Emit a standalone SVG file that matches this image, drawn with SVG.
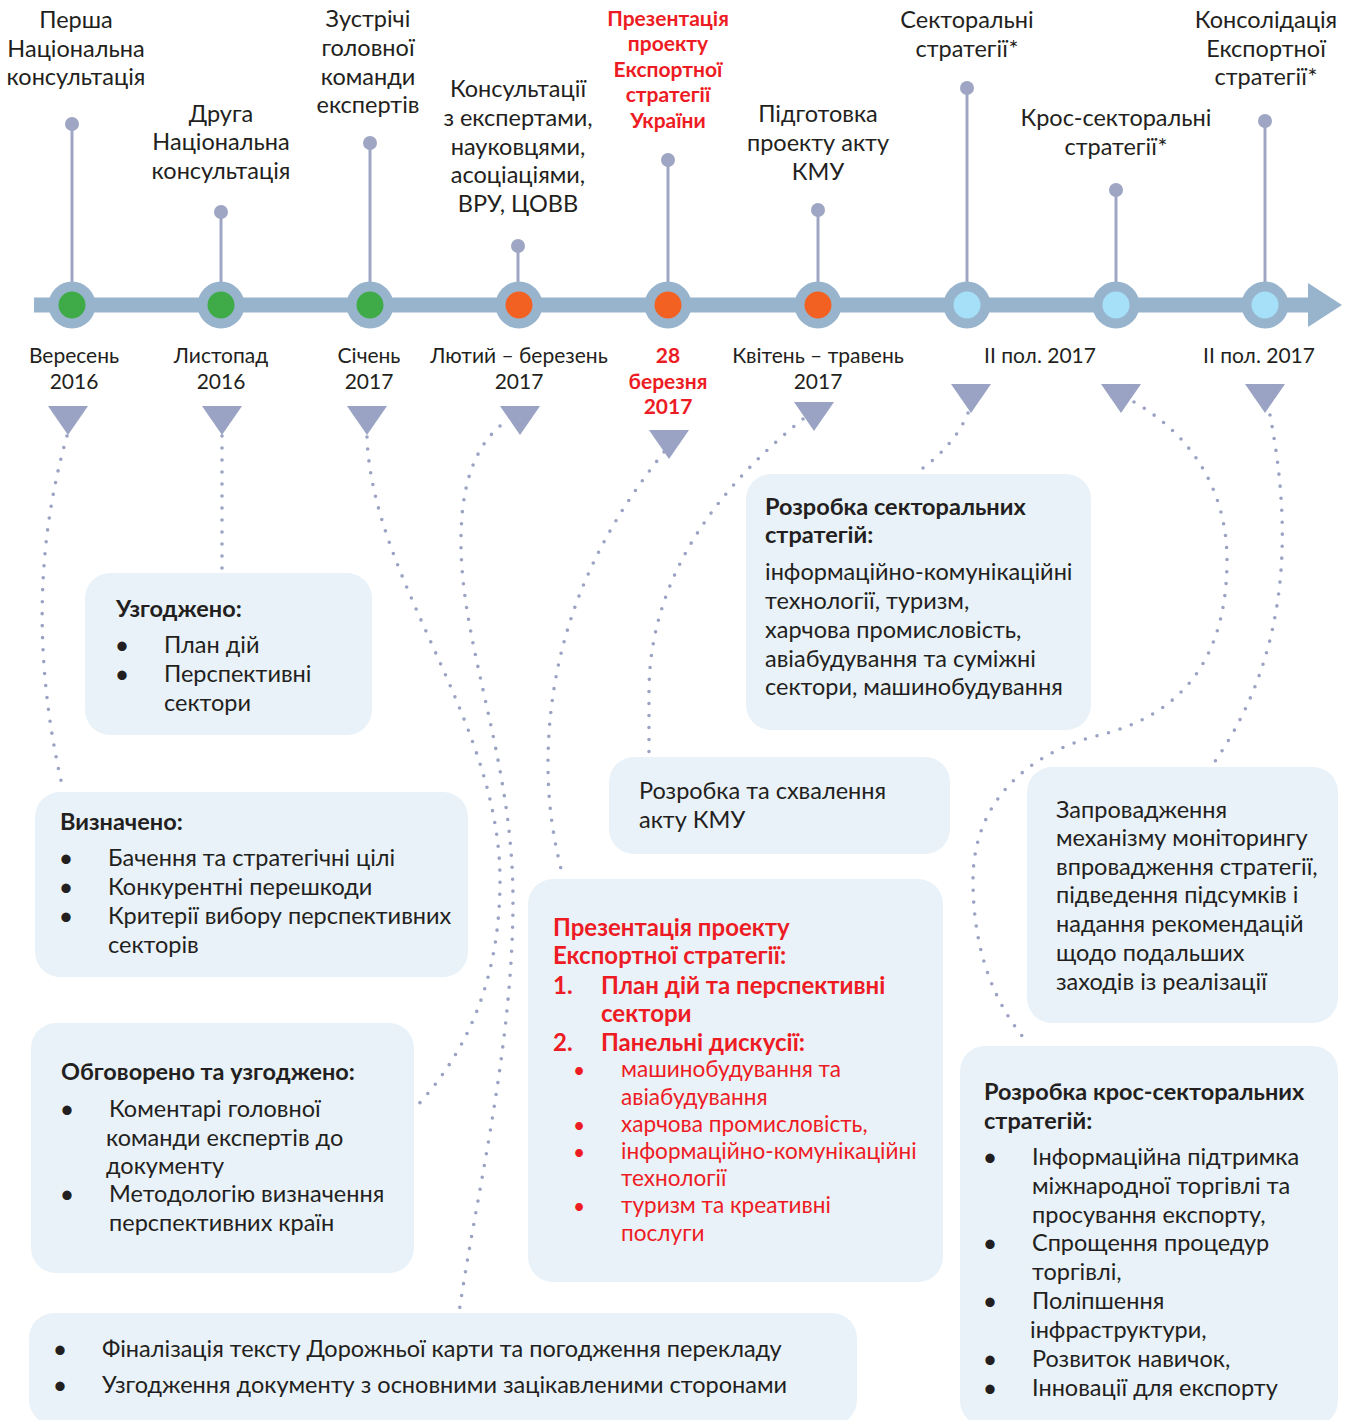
<svg xmlns="http://www.w3.org/2000/svg" width="1350" height="1420" viewBox="0 0 1350 1420">
<style>
text{font-family:Lato,"Liberation Sans","Noto Sans",sans-serif;fill:#231f20}
.l{font-size:23.5px}
.c{text-anchor:middle}
.d{font-size:21px}
.b{font-weight:700}
.r{fill:#ed1c24}
.s{font-size:22.6px}
.h{font-size:24px}
.bu{font-size:25px}
.bs{font-size:21px}
.box{fill:#e9f2f8}
.pin{fill:#9ea6c4}
.stem{stroke:#9ea6c4;stroke-width:3}
.ring{fill:#98b4cd}
.tri{fill:#9aa3c3}
.dot{fill:none;stroke:#9aa3c3;stroke-width:3.6;stroke-linecap:round;stroke-dasharray:0 12}
</style>
<rect width="1350" height="1420" fill="#ffffff"/>

<g id="timeline">
<rect x="34" y="297.5" width="1278" height="15" fill="#98b4cd"/>
<polygon points="1308,283 1342,305 1308,327" fill="#98b4cd"/>
</g>

<g id="connectors">
<path class="dot" d="M67,436 Q20,600 62,785"/>
<path class="dot" d="M222,436 L222,572"/>
<path class="dot" d="M367,437 C372,580 500,720 500,880 C500,990 460,1060 415,1108"/>
<path class="dot" d="M500,426 Q460,460 461,545 C462,650 513,760 513,900 C513,1050 475,1200 459,1313"/>
<path class="dot" d="M664,452 C610,520 548,620 548,765 C548,810 555,845 562,873"/>
<path class="dot" d="M803,419 C740,470 650,560 649,690 L649,752"/>
<path class="dot" d="M968,413 Q955,445 919,471"/>
<path class="dot" d="M1134,402 C1200,440 1227,500 1227,560 C1227,680 1160,720 1100,735 C1030,752 973,800 973,880 C973,960 1000,1010 1027,1042"/>
<path class="dot" d="M1270,415 C1290,520 1295,650 1211,767"/>
</g>

<g id="m1">
<line class="stem" x1="72" y1="124" x2="72" y2="285"/><circle class="pin" cx="72" cy="124" r="7"/>
<circle class="ring" cx="72" cy="305" r="23.5"/><circle cx="72" cy="305" r="13.5" fill="#3fab48"/>
<text class="l c"><tspan x="76" y="28">Перша</tspan><tspan x="76" y="57">Національна</tspan><tspan x="76" y="85">консультація</tspan></text>
<text class="d c"><tspan x="74" y="363">Вересень</tspan><tspan x="74" y="389">2016</tspan></text>
<polygon class="tri" points="48,406 88,406 68,435"/>
</g>
<g id="m2">
<line class="stem" x1="221" y1="212" x2="221" y2="285"/><circle class="pin" cx="221" cy="212" r="7"/>
<circle class="ring" cx="221" cy="305" r="23.5"/><circle cx="221" cy="305" r="13.5" fill="#3fab48"/>
<text class="l c"><tspan x="221" y="122">Друга</tspan><tspan x="221" y="150">Національна</tspan><tspan x="221" y="179">консультація</tspan></text>
<text class="d c"><tspan x="221" y="363">Листопад</tspan><tspan x="221" y="389">2016</tspan></text>
<polygon class="tri" points="202,406 242,406 222,435"/>
</g>
<g id="m3">
<line class="stem" x1="370" y1="143" x2="370" y2="285"/><circle class="pin" cx="370" cy="143" r="7"/>
<circle class="ring" cx="370" cy="305" r="23.5"/><circle cx="370" cy="305" r="13.5" fill="#3fab48"/>
<text class="l c"><tspan x="368" y="27">Зустрічі</tspan><tspan x="368" y="56">головної</tspan><tspan x="368" y="85">команди</tspan><tspan x="368" y="113">експертів</tspan></text>
<text class="d c"><tspan x="369" y="363">Січень</tspan><tspan x="369" y="389">2017</tspan></text>
<polygon class="tri" points="347,406 387,406 367,435"/>
</g>
<g id="m4">
<line class="stem" x1="518" y1="246" x2="518" y2="285"/><circle class="pin" cx="518" cy="246" r="7"/>
<circle class="ring" cx="519" cy="305" r="23.5"/><circle cx="519" cy="305" r="13.5" fill="#f26122"/>
<text class="l c"><tspan x="518" y="97">Консультації</tspan><tspan x="518" y="126">з експертами,</tspan><tspan x="518" y="155">науковцями,</tspan><tspan x="518" y="183">асоціаціями,</tspan><tspan x="518" y="212">ВРУ, ЦОВВ</tspan></text>
<text class="d c"><tspan x="519" y="363">Лютий – березень</tspan><tspan x="519" y="389">2017</tspan></text>
<polygon class="tri" points="500,406 540,406 520,435"/>
</g>
<g id="m5">
<line class="stem" x1="668" y1="160" x2="668" y2="285"/><circle class="pin" cx="668" cy="160" r="7"/>
<circle class="ring" cx="668" cy="305" r="23.5"/><circle cx="668" cy="305" r="13.5" fill="#f26122"/>
<text class="c b r" style="font-size:21px"><tspan x="668" y="26">Презентація</tspan><tspan x="668" y="51">проекту</tspan><tspan x="668" y="77">Експортної</tspan><tspan x="668" y="102">стратегії</tspan><tspan x="668" y="128">України</tspan></text>
<text class="d c b r"><tspan x="668" y="363">28</tspan><tspan x="668" y="389">березня</tspan><tspan x="668" y="414">2017</tspan></text>
<polygon class="tri" points="649,430 689,430 669,459"/>
</g>
<g id="m6">
<line class="stem" x1="818" y1="210" x2="818" y2="285"/><circle class="pin" cx="818" cy="210" r="7"/>
<circle class="ring" cx="818" cy="305" r="23.5"/><circle cx="818" cy="305" r="13.5" fill="#f26122"/>
<text class="l c"><tspan x="818" y="122">Підготовка</tspan><tspan x="818" y="151">проекту акту</tspan><tspan x="818" y="180">КМУ</tspan></text>
<text class="d c"><tspan x="818" y="363">Квітень – травень</tspan><tspan x="818" y="389">2017</tspan></text>
<polygon class="tri" points="794,402 834,402 814,431"/>
</g>
<g id="m7">
<line class="stem" x1="967" y1="88" x2="967" y2="285"/><circle class="pin" cx="967" cy="88" r="7"/>
<circle class="ring" cx="967" cy="305" r="23.5"/><circle cx="967" cy="305" r="13.5" fill="#a6e0f8"/>
<text class="l c"><tspan x="967" y="28">Секторальні</tspan><tspan x="967" y="57">стратегії*</tspan></text>
<text class="d c" x="1040" y="363">II пол. 2017</text>
<polygon class="tri" points="951,384 991,384 971,413"/>
</g>
<g id="m8">
<line class="stem" x1="1116" y1="190" x2="1116" y2="285"/><circle class="pin" cx="1116" cy="190" r="7"/>
<circle class="ring" cx="1116" cy="305" r="23.5"/><circle cx="1116" cy="305" r="13.5" fill="#a6e0f8"/>
<text class="l c"><tspan x="1116" y="126">Крос-секторальні</tspan><tspan x="1116" y="155">стратегії*</tspan></text>
<polygon class="tri" points="1101,384 1141,384 1121,413"/>
</g>
<g id="m9">
<line class="stem" x1="1265" y1="121" x2="1265" y2="285"/><circle class="pin" cx="1265" cy="121" r="7"/>
<circle class="ring" cx="1265" cy="305" r="23.5"/><circle cx="1265" cy="305" r="13.5" fill="#a6e0f8"/>
<text class="l c"><tspan x="1266" y="28">Консолідація</tspan><tspan x="1266" y="57">Експортної</tspan><tspan x="1266" y="85">стратегії*</tspan></text>
<text class="d c" x="1259" y="363">II пол. 2017</text>
<polygon class="tri" points="1245,384 1285,384 1265,413"/>
</g>

<g id="box-uzgodzheno">
<rect class="box" x="85" y="573" width="287" height="162" rx="25"/>
<text class="l b" x="116" y="617">Узгоджено:</text>
<text class="bu c"><tspan x="122" y="654">•</tspan><tspan x="122" y="683">•</tspan></text>
<text class="l"><tspan x="164" y="653">План дій</tspan><tspan x="164" y="682">Перспективні</tspan><tspan x="164" y="711">сектори</tspan></text>
</g>

<g id="box-vyznacheno">
<rect class="box" x="35" y="792" width="433" height="185" rx="25"/>
<text class="l b" x="60" y="830">Визначено:</text>
<text class="bu c"><tspan x="66" y="867">•</tspan><tspan x="66" y="896">•</tspan><tspan x="66" y="925">•</tspan></text>
<text class="l"><tspan x="108" y="866">Бачення та стратегічні цілі</tspan><tspan x="108" y="895">Конкурентні перешкоди</tspan><tspan x="108" y="924">Критерії вибору перспективних</tspan><tspan x="108" y="953">секторів</tspan></text>
</g>

<g id="box-obhovoreno">
<rect class="box" x="31" y="1023" width="383" height="250" rx="25"/>
<text class="l b" x="61" y="1080">Обговорено та узгоджено:</text>
<text class="bu c"><tspan x="67" y="1118">•</tspan><tspan x="67" y="1203">•</tspan></text>
<text class="l"><tspan x="109" y="1117">Коментарі головної</tspan><tspan x="106" y="1146">команди експертів до</tspan><tspan x="106" y="1174">документу</tspan><tspan x="109" y="1202">Методологію визначення</tspan><tspan x="109" y="1231">перспективних країн</tspan></text>
</g>

<g id="box-finalizatsiia">
<rect class="box" x="29" y="1313" width="828" height="112" rx="25"/>
<text class="bu c"><tspan x="60" y="1358">•</tspan><tspan x="60" y="1394">•</tspan></text>
<text class="l"><tspan x="102" y="1357">Фіналізація тексту Дорожньої карти та погодження перекладу</tspan><tspan x="102" y="1393">Узгодження документу з основними зацікавленими сторонами</tspan></text>
</g>

<g id="box-akt-kmu">
<rect class="box" x="609" y="757" width="341" height="97" rx="25"/>
<text class="l"><tspan x="639" y="799">Розробка та схвалення</tspan><tspan x="639" y="828">акту КМУ</tspan></text>
</g>

<g id="box-prezentatsiia">
<rect class="box" x="528" y="879" width="415" height="403" rx="25"/>
<text class="h b r"><tspan x="553" y="936">Презентація проекту</tspan><tspan x="553" y="964">Експортної стратегії:</tspan><tspan x="553" y="994">1.</tspan><tspan x="601" y="994">План дій та перспективні</tspan><tspan x="601" y="1022">сектори</tspan><tspan x="553" y="1051">2.</tspan><tspan x="601" y="1051">Панельні дискусії:</tspan></text>
<text class="bs c r"><tspan x="579" y="1078">•</tspan><tspan x="579" y="1133">•</tspan><tspan x="579" y="1160">•</tspan><tspan x="579" y="1214">•</tspan></text>
<text class="s r"><tspan x="621" y="1077">машинобудування та</tspan><tspan x="621" y="1105">авіабудування</tspan><tspan x="621" y="1132">харчова промисловість,</tspan><tspan x="621" y="1159">інформаційно-комунікаційні</tspan><tspan x="621" y="1186">технології</tspan><tspan x="621" y="1213">туризм та креативні</tspan><tspan x="621" y="1241">послуги</tspan></text>
</g>

<g id="box-sektoralni">
<rect class="box" x="746" y="474" width="345" height="256" rx="25"/>
<text class="l b"><tspan x="765" y="515">Розробка секторальних</tspan><tspan x="765" y="543">стратегій:</tspan></text>
<text class="l"><tspan x="765" y="580">інформаційно-комунікаційні</tspan><tspan x="765" y="609">технології, туризм,</tspan><tspan x="765" y="638">харчова промисловість,</tspan><tspan x="765" y="667">авіабудування та суміжні</tspan><tspan x="765" y="695">сектори, машинобудування</tspan></text>
</g>

<g id="box-monitorynh">
<rect class="box" x="1027" y="767" width="311" height="256" rx="25"/>
<text class="l"><tspan x="1056" y="818">Запровадження</tspan><tspan x="1056" y="846">механізму моніторингу</tspan><tspan x="1056" y="875">впровадження стратегії,</tspan><tspan x="1056" y="903">підведення підсумків і</tspan><tspan x="1056" y="932">надання рекомендацій</tspan><tspan x="1056" y="961">щодо подальших</tspan><tspan x="1056" y="990">заходів із реалізації</tspan></text>
</g>

<g id="box-kros">
<rect class="box" x="960" y="1046" width="378" height="380" rx="25"/>
<text class="l b"><tspan x="984" y="1100">Розробка крос-секторальних</tspan><tspan x="984" y="1129">стратегій:</tspan></text>
<text class="bu c"><tspan x="990" y="1166">•</tspan><tspan x="990" y="1252">•</tspan><tspan x="990" y="1310">•</tspan><tspan x="990" y="1368">•</tspan><tspan x="990" y="1397">•</tspan></text>
<text class="l"><tspan x="1032" y="1165">Інформаційна підтримка</tspan><tspan x="1032" y="1194">міжнародної торгівлі та</tspan><tspan x="1032" y="1223">просування експорту,</tspan><tspan x="1032" y="1251">Спрощення процедур</tspan><tspan x="1032" y="1280">торгівлі,</tspan><tspan x="1032" y="1309">Поліпшення</tspan><tspan x="1030" y="1338">інфраструктури,</tspan><tspan x="1032" y="1367">Розвиток навичок,</tspan><tspan x="1032" y="1396">Інновації для експорту</tspan></text>
</g>
</svg>
